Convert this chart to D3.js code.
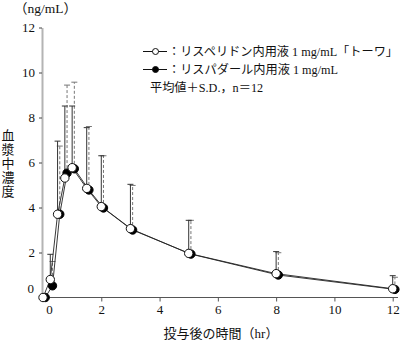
<!DOCTYPE html>
<html><head><meta charset="utf-8">
<script src="https://cdn.jsdelivr.net/npm/d3@7"></script>
<style>
html,body{margin:0;padding:0;background:#fff;}
svg{display:block;}
text{font-family:"Liberation Serif","Noto Sans CJK JP",serif;fill:#111;}
</style></head>
<body>
<svg id="c" width="400" height="342"></svg>
<script>
// ---- data ----
const times = [0, 0.25, 0.5, 0.75, 1, 1.5, 2, 3, 5, 8, 12];
const testMean = [0, 0.80, 3.70, 5.31, 5.77, 4.85, 4.04, 3.06, 1.96, 1.06, 0.39];
const testTop  = [0, 1.92, 6.95, 8.51, 8.51, 7.55, 6.30, 5.03, 3.43, 2.04, 0.97];
const refMean  = [0, 0.52, 3.70, 5.53, 5.72, 4.78, 3.98, 3.00, 1.93, 1.00, 0.36];
const refTop   = [0, 1.60, 6.73, 9.44, 9.57, 7.60, 6.30, 4.98, 3.43, 1.99, 0.90];
const xTicks = [0, 2, 4, 6, 8, 10, 12];
const yTicks = [0, 2, 4, 6, 8, 10, 12];
const legendLabels = ["：リスペリドン内用液 1 mg/mL「トーワ」", "：リスパダール内用液 1 mg/mL"];
const noteText = "平均値＋S.D.，n＝12";
const yUnit = "（ng/mL）";
const yTitle = ["血","漿","中","濃","度"];
const xTitle = "投与後の時間（hr）";

// ---- scales ----
const svg = d3.select("#c");
const x = d3.scaleLinear().domain([0, 12]).range([43, 392.7]);
const y = d3.scaleLinear().domain([0, 12]).range([297.5, 27.5]);
const dodge = 2.2;

// axes
const gx = svg.append("g").attr("transform", `translate(0,${y(0)})`)
  .call(d3.axisBottom(x).tickValues(xTicks).tickSize(4).tickSizeOuter(0).tickFormat(d3.format("d")));
gx.select(".domain").attr("stroke", "#555").attr("d", `M${x(0)-1},0H398`);
gx.selectAll(".tick line").attr("stroke", "#555");
gx.selectAll(".tick text").attr("font-size", 13).attr("font-family", "Liberation Serif").attr("fill", "#111").attr("dy", "0.55em").attr("y", 9);
gx.selectAll(".tick").filter(d => d === 0).select("text").attr("x", 6);
gx.selectAll(".tick").filter(d => d === 0).select("line").remove();

const gy = svg.append("g").attr("transform", `translate(42,0)`)
  .call(d3.axisLeft(y).tickValues(yTicks).tickSize(3).tickSizeOuter(0).tickFormat(d3.format("d")));
gy.select(".domain").attr("stroke", "#b4b4b4").attr("stroke-width", 2);
gy.selectAll(".tick line").attr("stroke", "#444");
gy.selectAll(".tick text").attr("font-size", 13).attr("font-family", "Liberation Serif").attr("fill", "#111").attr("x", -7);
gy.selectAll(".tick").filter(d => d === 0).select("text").attr("y", -9).attr("x", -8);
gy.selectAll(".tick").filter(d => d === 0).select("line").remove();

// error bars
function bars(tops, means, off, dashed) {
  const g = svg.append("g");
  times.forEach((t, i) => {
    if (tops[i] <= means[i]) return;
    const cx = x(t) + off;
    g.append("line").attr("x1", cx).attr("x2", cx).attr("y1", y(means[i])).attr("y2", y(tops[i]))
      .attr("stroke", dashed ? "#777" : "#333").attr("stroke-width", 1)
      .attr("stroke-dasharray", dashed ? "3,2" : null);
    g.append("line").attr("x1", cx - 3).attr("x2", cx + 3).attr("y1", y(tops[i])).attr("y2", y(tops[i]))
      .attr("stroke", dashed ? "#777" : "#333").attr("stroke-width", 1);
  });
}
bars(refTop, refMean, dodge, true);
bars(testTop, testMean, 0, false);

// lines
const line = off => d3.line().x(d => x(d[0]) + off).y(d => y(d[1]));
svg.append("path").datum(times.map((t, i) => [t, refMean[i]]))
  .attr("d", line(dodge)).attr("fill", "none").attr("stroke", "#222").attr("stroke-width", 0.9);
svg.append("path").datum(times.map((t, i) => [t, testMean[i]]))
  .attr("d", line(0)).attr("fill", "none").attr("stroke", "#222").attr("stroke-width", 0.9);

// markers
svg.append("g").selectAll("circle").data(times.map((t, i) => [t, refMean[i]])).join("circle")
  .attr("cx", d => x(d[0]) + dodge).attr("cy", d => y(d[1])).attr("r", 4.2)
  .attr("fill", "#000").attr("stroke", "#000");
svg.append("g").selectAll("circle").data(times.map((t, i) => [t, testMean[i]])).join("circle")
  .attr("cx", d => x(d[0])).attr("cy", d => y(d[1])).attr("r", 4.2)
  .attr("fill", "#fff").attr("stroke", "#111").attr("stroke-width", 1);

// legend
const leg = svg.append("g");
const legY = [51.5, 69.5];
legendLabels.forEach((lab, i) => {
  leg.append("line").attr("x1", 143).attr("x2", 167).attr("y1", legY[i]).attr("y2", legY[i])
    .attr("stroke", "#111").attr("stroke-width", 1);
  leg.append("circle").attr("cx", 155.5).attr("cy", legY[i]).attr("r", 3)
    .attr("fill", i === 0 ? "#fff" : "#000").attr("stroke", "#111");
  leg.append("text").attr("x", 168).attr("y", legY[i]).attr("dy", "0.35em").attr("font-size", 12.2).text(lab);
});
leg.append("text").attr("x", 150).attr("y", 88).attr("dy", "0.35em").attr("font-size", 12.2).text(noteText);

// titles
svg.append("text").attr("x", 14).attr("y", 8).attr("dy", "0.35em").attr("font-size", 13.5).text(yUnit);
yTitle.forEach((ch, i) => {
  svg.append("text").attr("x", 8).attr("y", 135 + i * 14.2).attr("dy", "0.35em")
    .attr("text-anchor", "middle").attr("font-size", 13).text(ch);
});
svg.append("text").attr("x", 221).attr("y", 333).attr("dy", "0.35em")
  .attr("text-anchor", "middle").attr("font-size", 13).text(xTitle);
</script>
</body></html>
